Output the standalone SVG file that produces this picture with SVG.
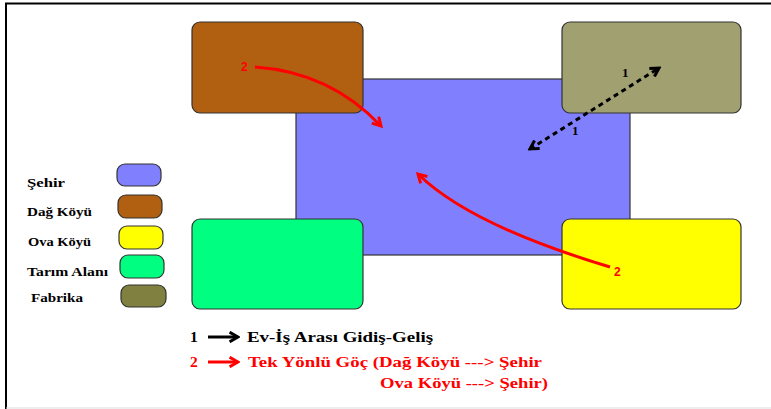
<svg xmlns="http://www.w3.org/2000/svg" width="771" height="409" viewBox="0 0 771 409">
<style>
.box{stroke:#333;stroke-width:1.2}
.lbl{font-family:"Liberation Serif",serif;font-weight:bold;font-size:12.5px;fill:#000}
.leg{font-family:"Liberation Serif",serif;font-weight:bold;font-size:15.5px}
.num{font-family:"Liberation Sans",sans-serif;font-weight:bold;font-size:12px}
.one{font-family:"Liberation Serif",serif;font-weight:bold;font-size:13px}
</style>
<defs>
<marker id="ar" viewBox="0 0 10 10" refX="8" refY="5" markerWidth="4" markerHeight="4" orient="auto" markerUnits="strokeWidth">
<path d="M1,1 L8,5 L1,9" fill="none" stroke="#f00" stroke-width="2.5"/>
</marker>
<marker id="ak" viewBox="0 0 10 10" refX="8" refY="5" markerWidth="4" markerHeight="4" orient="auto-start-reverse" markerUnits="strokeWidth">
<path d="M1,1 L8,5 L1,9" fill="none" stroke="#000" stroke-width="2.5"/>
</marker>
</defs>
<rect width="771" height="409" fill="#fff"/>
<path d="M6,409 V3.5 H771" fill="none" stroke="#000" stroke-width="2"/>
<line x1="6" y1="408" x2="771" y2="408" stroke="#ddd" stroke-width="1"/>
<g id="sehir"><rect class="box" x="296" y="79" width="334" height="176" fill="#8080FF"/></g>
<g id="dag"><rect class="box" x="192" y="22" width="171" height="91" rx="8" fill="#B06010"/></g>
<g id="fabrika"><rect class="box" x="562" y="22" width="179" height="91" rx="8" fill="#A0A070"/></g>
<g id="tarim"><rect class="box" x="192" y="219" width="171" height="90" rx="8" fill="#00FF80"/></g>
<g id="ova"><rect class="box" x="562" y="219" width="179" height="90" rx="8" fill="#FFFF00"/></g>
<g id="connectors">
<path d="M255,67 Q330,72 381,126" fill="none" stroke="#f00" stroke-width="3" marker-end="url(#ar)"/>
<path d="M610,267 Q470,225 418,174" fill="none" stroke="#f00" stroke-width="3" marker-end="url(#ar)"/>
<line x1="530" y1="149" x2="659" y2="68" stroke="#000" stroke-width="3" stroke-dasharray="5,4" marker-start="url(#ak)" marker-end="url(#ak)"/>
<text class="num" x="241" y="71" fill="#f00">2</text>
<text class="num" x="614" y="276" fill="#f00">2</text>
<text class="one" x="622" y="77" fill="#000">1</text>
<text class="one" x="572" y="135" fill="#000">1</text>
</g>
<g id="legend">
<rect class="box" x="117" y="164" width="44" height="22" rx="8" fill="#8080FF"/>
<rect class="box" x="118" y="195" width="44" height="23" rx="8" fill="#B06010"/>
<rect class="box" x="119" y="226" width="44" height="23" rx="8" fill="#FFFF00"/>
<rect class="box" x="120" y="255" width="44" height="23" rx="8" fill="#00FF80"/>
<rect class="box" x="121" y="285" width="45" height="22" rx="8" fill="#808040"/>
<text class="lbl" x="27" y="187" textLength="38" lengthAdjust="spacingAndGlyphs">Şehir</text>
<text class="lbl" x="27" y="216" textLength="65" lengthAdjust="spacingAndGlyphs">Dağ Köyü</text>
<text class="lbl" x="28" y="246" textLength="63" lengthAdjust="spacingAndGlyphs">Ova Köyü</text>
<text class="lbl" x="27" y="276" textLength="81" lengthAdjust="spacingAndGlyphs">Tarım Alanı</text>
<text class="lbl" x="31" y="302" textLength="52" lengthAdjust="spacingAndGlyphs">Fabrika</text>
<text class="leg" x="190" y="342" fill="#000">1</text>
<line x1="208" y1="337" x2="238" y2="337" stroke="#000" stroke-width="3" marker-end="url(#ak)"/>
<text class="leg" x="247" y="342" fill="#000" textLength="186" lengthAdjust="spacingAndGlyphs">Ev-İş Arası Gidiş-Geliş</text>
<text class="leg" x="190" y="367" fill="#f00">2</text>
<line x1="208" y1="362" x2="238" y2="362" stroke="#f00" stroke-width="3" marker-end="url(#ar)"/>
<text class="leg" x="248" y="367" fill="#f00" textLength="294" lengthAdjust="spacingAndGlyphs">Tek Yönlü Göç (Dağ Köyü ---&gt; Şehir</text>
<text class="leg" x="380" y="388" fill="#f00" textLength="168" lengthAdjust="spacingAndGlyphs">Ova Köyü ---&gt; Şehir)</text>
</g>
</svg>
